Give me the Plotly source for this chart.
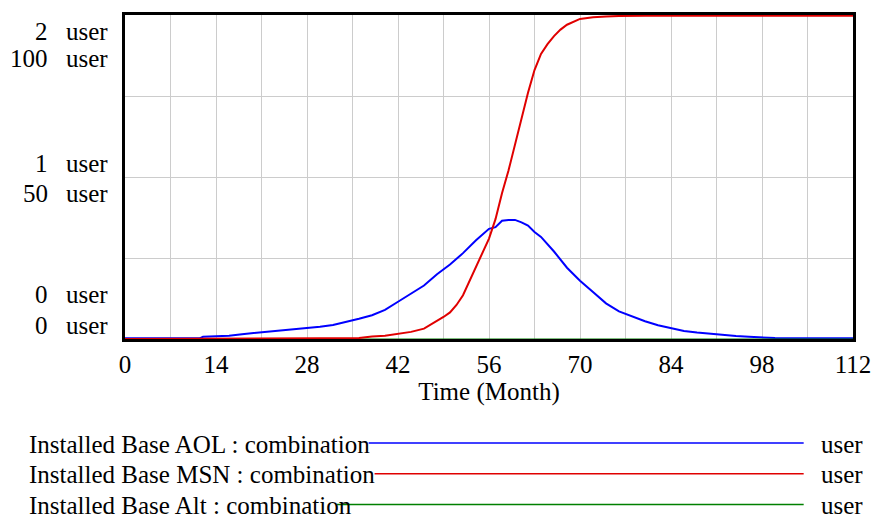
import plotly.graph_objects as go

# ---- data ----
aol_t = [0, 11.5, 12, 14, 16, 18, 20, 22, 24, 26, 28, 30, 32, 34, 36, 38, 40, 42, 44, 46, 48, 50,
         52, 54, 56, 57, 58, 59, 60, 61, 62, 63, 64, 66, 68, 70, 72, 74, 76, 78, 80, 82, 84, 86,
         88, 90, 92, 94, 96, 100, 112]
aol_v = [0.004, 0.004, 0.014, 0.015, 0.02, 0.03, 0.038, 0.045, 0.05, 0.058, 0.067, 0.075, 0.087,
         0.105, 0.125, 0.147, 0.18, 0.23, 0.28, 0.33, 0.40, 0.46, 0.53, 0.61, 0.68, 0.69, 0.73,
         0.735, 0.735, 0.72, 0.70, 0.66, 0.63, 0.54, 0.44, 0.36, 0.29, 0.22, 0.17, 0.14, 0.11,
         0.085, 0.067, 0.05, 0.04, 0.032, 0.025, 0.018, 0.014, 0.006, 0.005]

msn_t = [0, 11.8, 12, 20, 30, 36, 38, 40, 42, 44, 46, 48, 49, 50, 51, 52, 53, 54, 55, 56, 57, 58,
         59, 60, 61, 62, 63, 64, 65, 66, 67, 68, 70, 72, 74, 76, 80, 112]
msn_v = [0, 0, 0.2, 0.2, 0.2, 0.3, 0.8, 1.0, 1.6, 2.2, 3.2, 5.5, 6.8, 8.2, 10.5, 13.5, 18, 22, 27,
         31, 37, 45, 52, 60, 68, 76, 83, 88, 91, 93.5, 95.5, 97, 98.8, 99.3, 99.5, 99.7, 99.8, 99.8]

alt_t = [0, 112]
alt_v = [0, 0]

x_ticks = [0, 14, 28, 42, 56, 70, 84, 98, 112]
scale1_labels = ["2", "1", "0"]
scale2_labels = ["100", "50", "0"]
unit = "user"
series_names = ["Installed Base AOL : combination", "Installed Base MSN : combination",
                "Installed Base Alt : combination"]
series_colors = ["#0000ff", "#e00000", "#008000"]

FONT = "Liberation Serif"
FS = 25

# plot area in pixels
W, H = 883, 519
L, R, T, B = 125, 863, 12, 339


def px(xp):
    return (xp - L) / (R - L)


def py(yp):
    return (B - yp) / (B - T)


fig = go.Figure()
fig.add_trace(go.Scatter(x=alt_t, y=alt_v, mode="lines", line=dict(color=series_colors[2], width=1),
                         yaxis="y2", showlegend=False))
fig.add_trace(go.Scatter(x=aol_t, y=aol_v, mode="lines", line=dict(color=series_colors[0], width=2),
                         yaxis="y", showlegend=False))
fig.add_trace(go.Scatter(x=msn_t, y=msn_v, mode="lines", line=dict(color=series_colors[1], width=2),
                         yaxis="y2", showlegend=False))

fig.update_layout(
    width=W, height=H,
    margin=dict(l=L, r=W - R, t=T, b=H - B),
    paper_bgcolor="white", plot_bgcolor="white",
    xaxis=dict(range=[0, 112], tickvals=x_ticks, ticks="", showgrid=True, gridcolor="#cccccc",
               gridwidth=1, minor=dict(dtick=7, showgrid=True, gridcolor="#cccccc", gridwidth=1),
               showline=True, linecolor="black", linewidth=3, mirror=True, zeroline=False,
               tickfont=dict(family=FONT, size=FS, color="black"), ticklabelstandoff=1,
               title=dict(text="Time (Month)", font=dict(family=FONT, size=FS, color="black"),
                          standoff=2)),
    yaxis=dict(range=[0, 2], tickvals=[0, 0.5, 1, 1.5, 2], showticklabels=False, ticks="",
               showgrid=True, gridcolor="#cccccc", gridwidth=1, zeroline=False,
               showline=True, linecolor="black", linewidth=3, mirror=True),
    yaxis2=dict(range=[0, 100], overlaying="y", showticklabels=False, ticks="", showgrid=False,
                zeroline=False, showline=False),
)

# y-axis scale labels
label_rows = [(scale1_labels[0], 29), (scale2_labels[0], 56), (scale1_labels[1], 162),
              (scale2_labels[1], 192), (scale1_labels[2], 294), (scale2_labels[2], 325)]
for txt, yp in label_rows:
    fig.add_annotation(x=px(49), y=py(yp), xref="paper", yref="paper", text=txt, showarrow=False,
                       xanchor="right", yanchor="middle",
                       font=dict(family=FONT, size=FS, color="black"))
    fig.add_annotation(x=px(63), y=py(yp), xref="paper", yref="paper", text=unit, showarrow=False,
                       xanchor="left", yanchor="middle",
                       font=dict(family=FONT, size=FS, color="black"))

# legend block
leg_rows = [445, 476, 507]
leg_line_start = [372, 378, 340]
for name, color, yp, xs in zip(series_names, series_colors, leg_rows, leg_line_start):
    fig.add_annotation(x=px(26), y=py(yp), xref="paper", yref="paper", text=name, showarrow=False,
                       xanchor="left", yanchor="middle",
                       font=dict(family=FONT, size=FS, color="black"))
    fig.add_shape(type="line", xref="paper", yref="paper", x0=px(xs), x1=px(813),
                  y0=py(yp - 1), y1=py(yp - 1), line=dict(color=color, width=1.5))
    fig.add_annotation(x=px(829), y=py(yp), xref="paper", yref="paper", text=unit, showarrow=False,
                       xanchor="left", yanchor="middle",
                       font=dict(family=FONT, size=FS, color="black"))

fig.write_html("out.html")
